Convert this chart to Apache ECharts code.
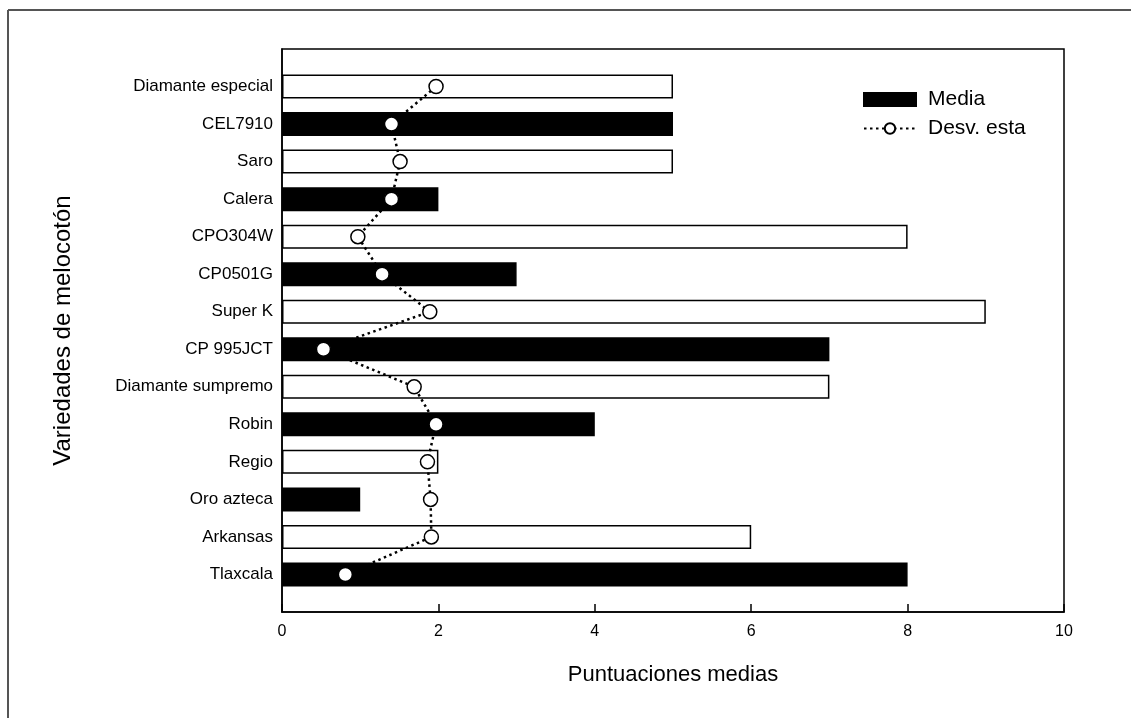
<!DOCTYPE html>
<html>
<head>
<meta charset="utf-8">
<script src="https://cdn.jsdelivr.net/npm/echarts@6/dist/echarts.min.js"></script>
<style>
  html, body { margin: 0; padding: 0; background: #fff; }
  #chart { width: 1131px; height: 718px; }
</style>
</head>
<body>
<div id="chart"></div>
<script>
// varieties, listed bottom to top as on the axis
var varieties = ['Tlaxcala', 'Arkansas', 'Oro azteca', 'Regio', 'Robin', 'Diamante sumpremo',
  'CP 995JCT', 'Super K', 'CP0501G', 'CPO304W', 'Calera', 'Saro', 'CEL7910', 'Diamante especial'];
// Media (bars)
var media = [8, 6, 1, 2, 4, 7, 7, 9, 3, 8, 2, 5, 5, 5];
// Desv. esta (dotted line)
var desv = [0.81, 1.91, 1.90, 1.86, 1.97, 1.69, 0.53, 1.89, 1.28, 0.97, 1.40, 1.51, 1.40, 1.97];
var xTicks = [0, 2, 4, 6, 8, 10];

var FONT = '"Liberation Sans", Arial, sans-serif';

// one empty slot below and above so the bars sit away from the frame
var cats = [''].concat(varieties, ['']);
var barData = [null];
media.forEach(function (v, i) {
  var fill = i % 2 === 0 ? '#000' : '#fff';
  barData.push({ value: v, itemStyle: { color: fill, borderColor: '#000', borderWidth: 1.5 } });
});
barData.push(null);
var lineData = [null].concat(desv, [null]);

var chart = echarts.init(document.getElementById('chart'));
var option = {
  backgroundColor: '#fff',
  animation: false,
  textStyle: { fontFamily: FONT, color: '#000' },
  grid: {
    left: 282, right: 67, top: 49, bottom: 106,
    show: true, borderColor: '#000', borderWidth: 1.5, backgroundColor: 'transparent'
  },
  legend: {
    orient: 'vertical',
    left: 863, top: 89,
    padding: 0,
    itemWidth: 52, itemHeight: 13, itemGap: 8,
    textStyle: { fontSize: 21, color: '#000', fontFamily: FONT, padding: [0, 0, 0, 7] },
    data: [{ name: 'Media', icon: 'rect' }, { name: 'Desv. esta' }]
  },
  xAxis: {
    type: 'value',
    min: xTicks[0], max: xTicks[xTicks.length - 1], interval: 2,
    name: 'Puntuaciones medias',
    nameLocation: 'middle', nameGap: 52,
    nameTextStyle: { fontSize: 22, color: '#000', fontFamily: FONT },
    axisLine: { show: true, lineStyle: { color: '#000', width: 1.5 } },
    axisTick: { show: true, inside: true, length: 8, lineStyle: { color: '#000', width: 1.5 } },
    axisLabel: { fontSize: 16, color: '#000', margin: 12, fontFamily: FONT },
    splitLine: { show: false }
  },
  yAxis: {
    type: 'category',
    data: cats,
    boundaryGap: false,
    name: 'Variedades de melocotón',
    nameLocation: 'middle', nameGap: 207,
    nameTextStyle: { fontSize: 24, color: '#000', fontFamily: FONT },
    axisLine: { show: true, lineStyle: { color: '#000', width: 1.5 } },
    axisTick: { show: false },
    axisLabel: { fontSize: 17, color: '#000', margin: 9, interval: 0, fontFamily: FONT },
    splitLine: { show: false }
  },
  series: [
    {
      name: 'Media',
      type: 'bar',
      barWidth: 24,
      itemStyle: { color: '#000', borderColor: '#000', borderWidth: 1.5 },
      data: barData,
      z: 2
    },
    {
      name: 'Desv. esta',
      type: 'line',
      symbol: 'circle',
      symbolSize: 14,
      itemStyle: { color: '#fff', borderColor: '#000', borderWidth: 1.5 },
      lineStyle: { color: '#000', width: 2.5, type: [2.5, 3.5] },
      data: lineData,
      z: 3
    }
  ],
  graphic: [
    { type: 'line', shape: { x1: 8, y1: 10, x2: 1131, y2: 10 }, style: { stroke: '#555', lineWidth: 2 } },
    { type: 'line', shape: { x1: 8, y1: 10, x2: 8, y2: 718 }, style: { stroke: '#555', lineWidth: 2 } }
  ]
};
chart.setOption(option);
</script>
</body>
</html>
